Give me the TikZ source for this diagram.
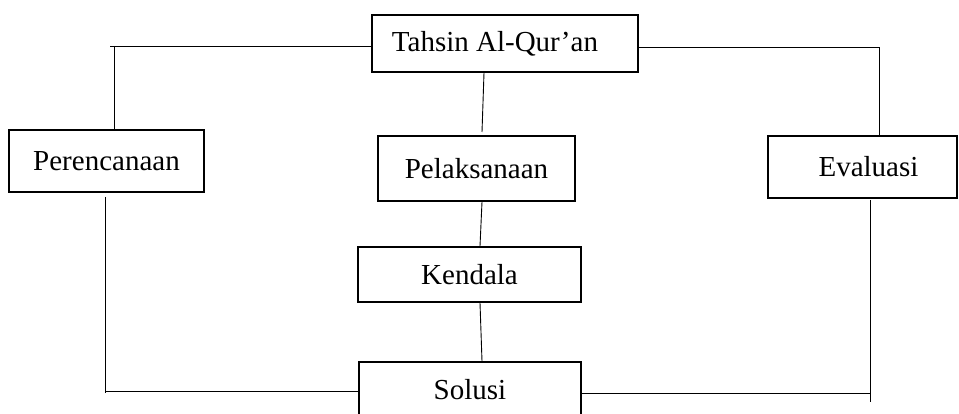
\documentclass[tikz,border=0pt]{standalone}
\usepackage{fontspec}
\setmainfont{Liberation Serif}
\begin{document}
\begin{tikzpicture}[x=1pt,y=-1pt,
  boxnode/.style={draw=black,line width=1.6pt,inner sep=0pt,font=\fontsize{29}{34}\selectfont},
  conn/.style={draw=black,line width=0.9pt}]
\clip (0,0) rectangle (959,414);
\node[boxnode,minimum width=266pt,minimum height=57pt] (tahsin) at (505,43.5) {Tahsin Al-Qur’an\hspace*{20pt}};
\node[boxnode,minimum width=195pt,minimum height=62pt] (peren) at (106.5,161) {Perencanaan};
\node[boxnode,minimum width=197pt,minimum height=65pt] (pelak) at (476.5,168.5) {Pelaksanaan};
\node[boxnode,minimum width=189pt,minimum height=62pt] (eval) at (862.5,167) {\hspace*{12pt}Evaluasi};
\node[boxnode,minimum width=223pt,minimum height=55pt] (kend) at (469.5,274.5) {Kendala};
\node[boxnode,minimum width=222pt,minimum height=56pt] (solusi) at (470,390) {Solusi};
% top left branch
\coordinate (tl) at (110,46);
\coordinate (tlv) at (114,46);
\draw[conn] (tl) -- (tl -| tahsin.west);
\draw[conn] (tlv) -- (tlv |- peren.north);
% top right branch
\coordinate (tr) at (879,47);
\draw[conn] (tr -| tahsin.east) -- (tr) -- (tr |- eval.north);
% central spine
\coordinate (s1) at (484,72);
\coordinate (s2) at (482,132);
\coordinate (s3) at (482,201);
\coordinate (s4) at (480,247);
\coordinate (s5) at (480,302);
\coordinate (s6) at (482,361);
\draw[conn] (s1 |- tahsin.south) -- (s2);
\draw[conn] (s3 |- pelak.south) -- (s4 |- kend.north);
\draw[conn] (s5 |- kend.south) -- (s6 |- solusi.north);
% bottom left branch
\coordinate (blt) at (105,197);
\coordinate (blb) at (105,393);
\coordinate (bl) at (105,391);
\draw[conn] (blt) -- (blb);
\draw[conn] (bl) -- (bl -| solusi.west);
% bottom right branch
\coordinate (brt) at (870,200);
\coordinate (brb) at (870,402);
\coordinate (br) at (870,393);
\draw[conn] (brt) -- (brb);
\draw[conn] (br -| solusi.east) -- (br);
\end{tikzpicture}
\end{document}
